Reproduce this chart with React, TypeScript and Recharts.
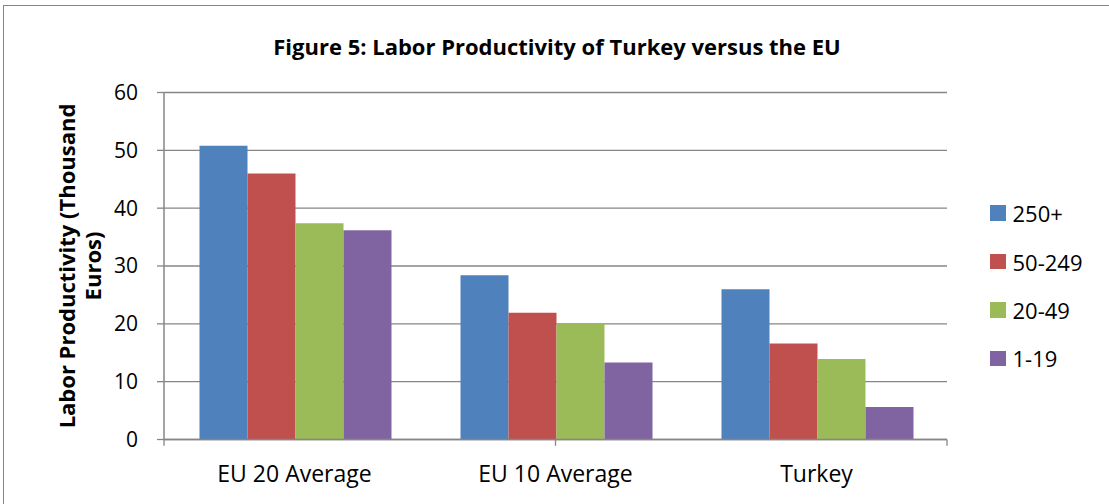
import { BarChart, Bar, XAxis, YAxis, CartesianGrid, Legend, ReferenceLine } from 'recharts';

// --- data ---
const categories = ['EU 20 Average', 'EU 10 Average', 'Turkey'];
const size250plus = [50.8, 28.4, 26.0];
const size50to249 = [46.0, 21.9, 16.6];
const size20to49 = [37.4, 20.1, 13.9];
const size1to19 = [36.2, 13.3, 5.6];
const yTicks = [0, 10, 20, 30, 40, 50, 60];
const categoryEdges = [0, 1, 2, 3];

const seriesNames = ['250+', '50-249', '20-49', '1-19'];
const seriesColors = ['#4F81BD', '#C0504D', '#9BBB59', '#8064A2'];

const data = categories.map((name, i) => ({
  name,
  s0: size250plus[i],
  s1: size50to249[i],
  s2: size20to49[i],
  s3: size1to19[i],
}));

const FONT = '"Open Sans", "Noto Sans", sans-serif';
const GRAY = '#868686';

// legend keeps the series order (recharts would sort it by name)
const renderLegend = () => (
  <div style={{ fontFamily: FONT, fontSize: 22, color: '#000' }}>
    {seriesNames.map((name, i) => (
      <div key={name} style={{ display: 'flex', alignItems: 'center', height: 48.4 }}>
        <span style={{ display: 'inline-block', width: 15.5, height: 15.5, background: seriesColors[i], marginRight: 7 }} />
        <span>{name}</span>
      </div>
    ))}
  </div>
);

const renderYLabel = () => {
  // two-line rotated axis title, centred on the plot area
  const cy = 266;
  return (
    <text
      transform={`translate(0, ${cy}) rotate(-90)`}
      textAnchor="middle"
      fontFamily={FONT}
      fontSize={22}
      fontWeight="bold"
      fill="#000"
    >
      <tspan x={0} y={75}>Labor Productivity (Thousand</tspan>
      <tspan x={0} y={101}>Euros)</tspan>
    </text>
  );
};

export default function App() {
  return (
    <div style={{ position: 'absolute', left: 0, top: 0, width: 1109, height: 504, overflow: 'hidden', background: '#fff' }}>
      {/* chart frame, runs past the right and bottom of the picture */}
      <div style={{ position: 'absolute', left: 3, top: 5, width: 1200, height: 600, border: `1.5px solid ${GRAY}` }} />
      <div
        style={{
          position: 'absolute',
          left: 0,
          width: 1114,
          top: 32,
          textAlign: 'center',
          fontFamily: FONT,
          fontWeight: 'bold',
          fontSize: 22,
          lineHeight: '28px',
          color: '#000',
        }}
      >
        Figure 5: Labor Productivity of Turkey versus the EU
      </div>
      <div style={{ position: 'absolute', left: 0, top: 0 }}>
        <BarChart
          width={1109}
          height={504}
          data={data}
          margin={{ top: 92.5, right: 162, bottom: 4.5, left: 0 }}
          barCategoryGap="13.6%"
          barGap={0}
        >
          <CartesianGrid vertical={false} stroke={GRAY} strokeWidth={1.3} />
          <XAxis
            dataKey="name"
            tickLine={false}
            axisLine={{ stroke: GRAY, strokeWidth: 1.5 }}
            tickSize={0}
            tickMargin={26}
            height={60}
            tick={{ fill: '#000', fontSize: 23, fontFamily: FONT }}
          />
          <XAxis xAxisId="edge" type="number" domain={[0, 3]} hide />
          <YAxis
            domain={[0, 60]}
            ticks={yTicks}
            width={164}
            tickSize={7}
            tickMargin={19}
            axisLine={{ stroke: GRAY, strokeWidth: 1.5 }}
            tickLine={{ stroke: GRAY, strokeWidth: 1.3 }}
            tick={{ fill: '#000', fontSize: 21, fontFamily: FONT }}
            label={{ content: renderYLabel }}
          />
          {categoryEdges.map((b) => (
            <ReferenceLine
              key={b}
              xAxisId="edge"
              segment={[{ x: b, y: 0 }, { x: b, y: -1.1 }]}
              stroke={GRAY}
              strokeWidth={1.3}
              ifOverflow="visible"
            />
          ))}
          <Legend
            layout="vertical"
            align="center"
            verticalAlign="middle"
            content={renderLegend}
            wrapperStyle={{ left: 990, top: 189, width: 110 }}
          />
          {seriesNames.map((s, i) => (
            <Bar key={s} dataKey={`s${i}`} name={s} fill={seriesColors[i]} isAnimationActive={false} />
          ))}
        </BarChart>
      </div>
    </div>
  );
}
